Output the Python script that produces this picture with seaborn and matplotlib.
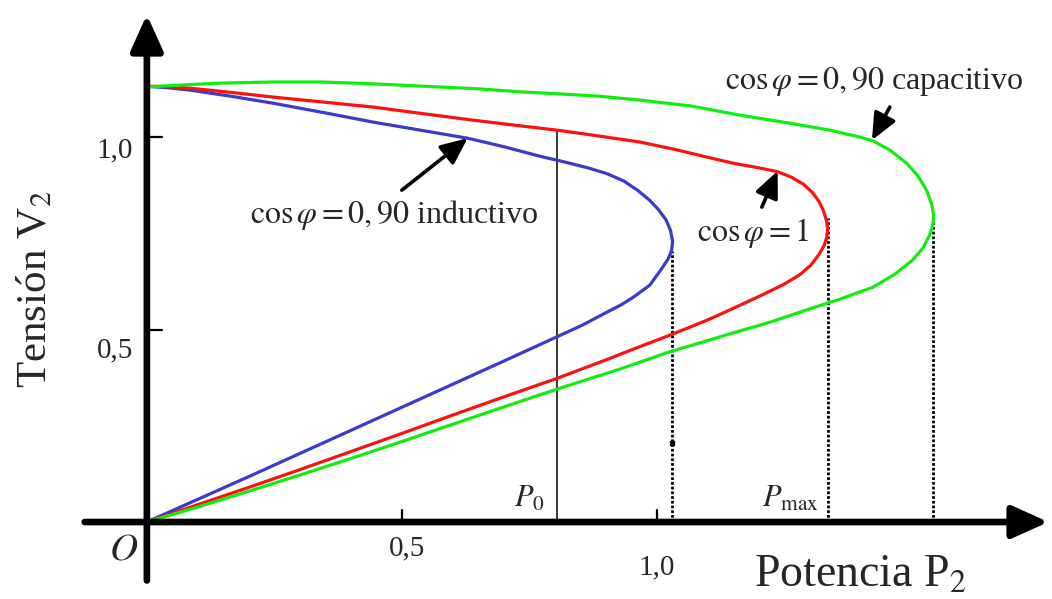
import numpy as np
import pandas as pd
import matplotlib
matplotlib.use("Agg")
import matplotlib.pyplot as plt
import seaborn as sns

# --- P-V (nose) curves of the receiving end, per power factor ---
P_ind = [0.000, 0.042, 0.084, 0.165, 0.247, 0.345, 0.443, 0.536, 0.629, 0.700,
         0.771, 0.820, 0.865, 0.902, 0.935, 0.962, 0.985, 1.003, 1.018, 1.027,
         1.031, 1.029, 1.022, 1.008, 0.986, 0.955, 0.930, 0.902, 0.855, 0.804,
         0.700, 0.600, 0.500, 0.400, 0.300, 0.200, 0.100, 0.000]
V_ind = [1.132, 1.128, 1.122, 1.106, 1.088, 1.064, 1.039, 1.018, 0.997, 0.975,
         0.950, 0.935, 0.920, 0.905, 0.886, 0.862, 0.837, 0.812, 0.785, 0.757,
         0.728, 0.705, 0.683, 0.655, 0.615, 0.585, 0.564, 0.545, 0.512, 0.481,
         0.418, 0.358, 0.298, 0.238, 0.178, 0.118, 0.059, 0.000]

P_uno = [0.000, 0.042, 0.084, 0.165, 0.247, 0.345, 0.443, 0.540, 0.639, 0.720,
         0.804, 0.885, 0.967, 1.035, 1.098, 1.150, 1.200, 1.237, 1.265, 1.288,
         1.305, 1.318, 1.327, 1.333, 1.335, 1.333, 1.328, 1.318, 1.302, 1.280,
         1.250, 1.210, 1.163, 1.100, 1.027, 0.950, 0.900, 0.804, 0.700, 0.600,
         0.500, 0.400, 0.300, 0.200, 0.100, 0.000]
V_uno = [1.132, 1.131, 1.127, 1.116, 1.104, 1.091, 1.078, 1.061, 1.044, 1.031,
         1.018, 1.003, 0.987, 0.968, 0.948, 0.932, 0.920, 0.910, 0.895, 0.877,
         0.856, 0.833, 0.808, 0.782, 0.760, 0.738, 0.718, 0.695, 0.667, 0.642,
         0.618, 0.592, 0.563, 0.525, 0.486, 0.447, 0.421, 0.373, 0.325, 0.278,
         0.230, 0.183, 0.136, 0.090, 0.045, 0.000]

P_cap = [0.000, 0.065, 0.143, 0.247, 0.339, 0.412, 0.496, 0.575, 0.653, 0.737,
         0.810, 0.888, 0.967, 1.065, 1.163, 1.261, 1.339, 1.398, 1.424, 1.457,
         1.490, 1.512, 1.529, 1.539, 1.543, 1.541, 1.535, 1.522, 1.502, 1.467,
         1.424, 1.359, 1.294, 1.222, 1.149, 1.084, 1.025, 0.927, 0.804, 0.700,
         0.600, 0.500, 0.400, 0.300, 0.200, 0.100, 0.000]
V_cap = [1.130, 1.135, 1.140, 1.143, 1.143, 1.140, 1.135, 1.130, 1.125, 1.117,
         1.112, 1.106, 1.096, 1.081, 1.057, 1.036, 1.018, 1.000, 0.990, 0.966,
         0.932, 0.899, 0.862, 0.826, 0.797, 0.771, 0.745, 0.712, 0.681, 0.644,
         0.610, 0.579, 0.551, 0.519, 0.491, 0.465, 0.442, 0.397, 0.345, 0.299,
         0.254, 0.209, 0.165, 0.122, 0.080, 0.039, 0.000]

curve_names = ["inductivo", "unidad", "capacitivo"]
curve_colors = ["#3a3acc", "#ff1010", "#10ee10"]

# maximum transferable power of each curve and the voltage where its dotted drop starts
P_max = [1.029, 1.335, 1.541]
V_drop = [0.705, 0.790, 0.780]

# operating point P0 and its voltage on the unity power-factor curve
P0 = 0.804
V0_top = 1.018

tick_vals = [0.5, 1.0]
tick_labels = ["0,5", "1,0"]

df = pd.concat([
    pd.DataFrame({"P": P_ind, "V": V_ind, "fp": curve_names[0]}),
    pd.DataFrame({"P": P_uno, "V": V_uno, "fp": curve_names[1]}),
    pd.DataFrame({"P": P_cap, "V": V_cap, "fp": curve_names[2]}),
], ignore_index=True)

sns.set_theme(style="white")
plt.rcParams["font.family"] = ["Liberation Serif", "DejaVu Serif"]
plt.rcParams["mathtext.fontset"] = "stix"

fig = plt.figure(figsize=(10.52, 5.99), dpi=100)
ax = fig.add_axes([0, 0, 1, 1])
ax.set_xlim(-0.288, 1.775)
ax.set_ylim(-0.200, 1.356)
ax.axis("off")

# curves
sns.lineplot(data=df, x="P", y="V", hue="fp", sort=False, estimator=None,
             palette=dict(zip(curve_names, curve_colors)), linewidth=2.3,
             legend=False, ax=ax, zorder=3)

# dotted drops from each nose to the power axis
for pm, vd in zip(P_max, V_drop):
    ax.plot([pm, pm], [0, vd], color="black", linestyle=(0, (1, 0.7)),
            linewidth=2.0, zorder=2)
ax.plot([P_max[0]], [0.205], marker="s", markersize=3.5, color="black", zorder=2)

# P0 line
ax.plot([P0, P0], [0, V0_top], color="black", linewidth=1.1, zorder=2)

# axes drawn as thick arrows
arrow_kw = dict(arrowstyle="-|>,head_length=1.0,head_width=0.45",
                color="black", lw=4.8, mutation_scale=22,
                shrinkA=0, shrinkB=0)
ax.annotate("", xy=(1.768, 0), xytext=(-0.122, 0), arrowprops=arrow_kw, zorder=4)
ax.annotate("", xy=(0, 1.318), xytext=(0, -0.152), arrowprops=arrow_kw, zorder=4)

# ticks
for t in tick_vals:
    ax.plot([0, 0.03], [t, t], color="black", linewidth=1.6, zorder=4)
    ax.plot([t, t], [0, 0.03], color="black", linewidth=1.6, zorder=4)

fs_tick = 21
ax.text(-0.063, 0.966, tick_labels[1], fontsize=fs_tick, ha="center", va="center")
ax.text(-0.063, 0.447, tick_labels[0], fontsize=fs_tick, ha="center", va="center")
ax.text(0.51, -0.068, tick_labels[0], fontsize=fs_tick, ha="center", va="center")
ax.text(1.0, -0.119, tick_labels[1], fontsize=fs_tick, ha="center", va="center")
ax.text(-0.045, -0.073, "$O$", fontsize=28, ha="center", va="center")

# axis titles
ax.text(-0.218, 0.605, "Tensión V$_2$", fontsize=31, rotation=90,
        ha="center", va="center")
ax.text(1.400, -0.137, "Potencia P$_2$", fontsize=33, ha="center", va="center")

# P0 and Pmax labels
ax.text(0.780, 0.058, "$P_0$", fontsize=22, ha="right", va="center")
ax.text(1.318, 0.058, "$P_{\\max}$", fontsize=22, ha="right", va="center")

# curve annotations
fs_ann = 23
ax.text(0.202, 0.797, "$\\cos\\varphi = 0,90$ inductivo", fontsize=fs_ann,
        ha="left", va="center")
ax.text(1.078, 0.750, "$\\cos\\varphi = 1$", fontsize=fs_ann,
        ha="left", va="center")
ax.text(1.133, 1.143, "$\\cos\\varphi = 0,90$ capacitivo", fontsize=fs_ann,
        ha="left", va="center")

ann_kw = dict(arrowstyle="-|>,head_length=0.9,head_width=0.4", color="black",
              lw=2.6, mutation_scale=18, shrinkA=0, shrinkB=0)
ax.annotate("", xy=(0.629, 0.997), xytext=(0.500, 0.862), arrowprops=ann_kw, zorder=5)
ax.annotate("", xy=(1.237, 0.912), xytext=(1.206, 0.818), arrowprops=ann_kw, zorder=5)
ax.annotate("", xy=(1.422, 0.992), xytext=(1.457, 1.078), arrowprops=ann_kw, zorder=5)

fig.savefig("out.png", dpi=100)
